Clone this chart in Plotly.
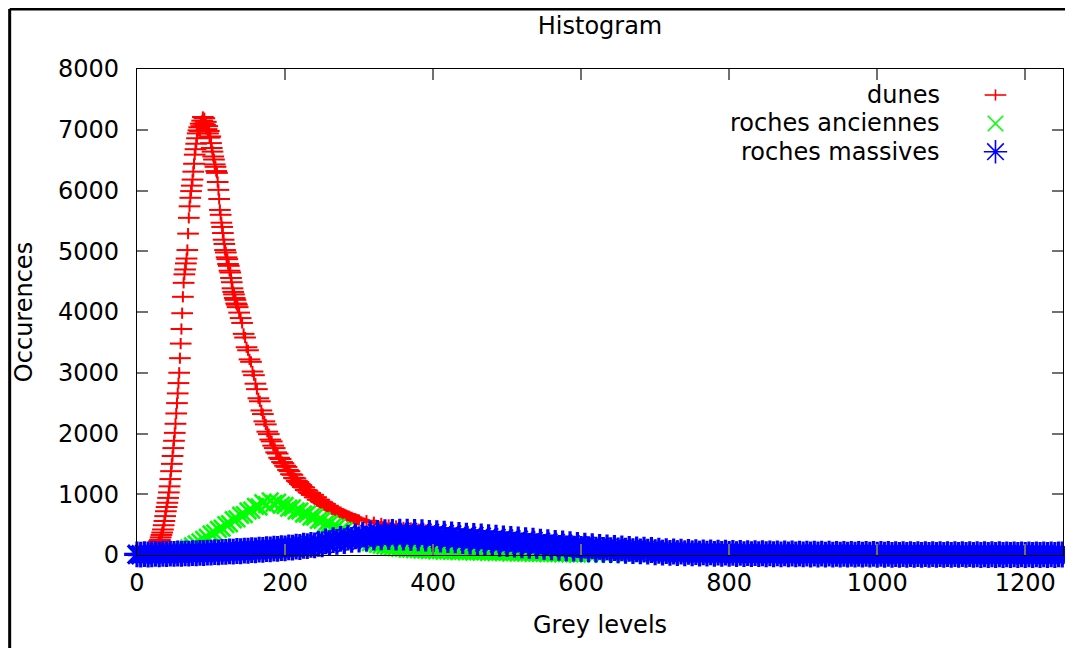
import plotly.graph_objects as go

# ---------------- data ----------------
series_names = ["dunes", "roches anciennes", "roches massives"]
x_ticks = [0, 200, 400, 600, 800, 1000, 1200]
y_ticks = [0, 1000, 2000, 3000, 4000, 5000, 6000, 7000, 8000]

# dunes (red +)
grey_dunes = (list(range(0, 18, 3)) + list(range(18, 136)) +
              list(range(136, 301, 2)) + list(range(310, 1251, 10)))
dunes = [
    0, 0, 0, 0, 0, 0,
    # 18..135
    0, 0, 5, 10, 20, 25, 40, 70, 90, 130,
    160, 190, 230, 250, 290, 330, 370, 420, 490, 560,
    640, 720, 790, 860, 940, 1030, 1130, 1250, 1380, 1500,
    1630, 1760, 1880, 2010, 2160, 2330, 2500, 2660, 2830, 3000,
    3240, 3480, 3720, 3980, 4250, 4480, 4620, 4700, 4800, 4880,
    5020, 5290, 5550, 5740, 5880, 5990, 6080, 6180, 6310, 6440,
    6590, 6680, 6770, 6860, 6940, 6990, 7040, 6980, 7100, 7060,
    7150, 7210, 7100, 7190, 7080, 7130, 7010, 7060, 6940, 6980,
    6870, 6890, 6780, 6700, 6640, 6560, 6510, 6430, 6390, 6320,
    6290, 6140, 6010, 5860, 5680, 5600, 5470, 5400, 5300, 5190,
    5120, 5020, 4980, 4900, 4870, 4790, 4760, 4680, 4650, 4560,
    4490, 4390, 4330, 4290, 4230, 4200, 4140, 4120,
    # 136..300 step 2
    4080, 3990, 3900, 3820, 3640, 3580, 3420, 3370, 3220, 3180,
    3020, 2960, 2820, 2730, 2580, 2530, 2380, 2320, 2200, 2150,
    2030, 1990, 1900, 1870, 1800, 1760, 1690, 1670, 1600, 1580,
    1530, 1510, 1470, 1450, 1400, 1380, 1330, 1320, 1270, 1260,
    1220, 1200, 1170, 1150, 1120, 1110, 1070, 1060, 1030, 1020,
    990, 990, 950, 950, 910, 910, 880, 870, 850, 840,
    810, 810, 780, 780, 750, 750, 730, 720, 710, 700,
    680, 680, 660, 660, 640, 640, 620, 620, 600, 600,
    590, 580, 575,
    # 310..1250 step 10
    565, 540, 520, 495, 478, 455, 445, 425, 410, 392,
    382, 368, 360, 345, 335, 326, 318, 305, 300, 288,
    282, 272, 265, 255, 250, 240, 236, 226, 222, 212,
    208, 200, 196, 188, 185, 178, 175, 170, 166, 160,
    158, 152, 150, 146, 144, 140, 138, 134, 133, 128,
    128, 124, 124, 120, 121, 117, 119, 115, 117, 113,
    115, 111, 113, 110, 112, 108, 111, 107, 110, 106,
    109, 105, 108, 104, 107, 103, 106, 102, 105, 101,
    104, 100, 103, 99, 103, 98, 102, 97, 101, 96,
    100, 96, 99, 95, 98,
]

# roches anciennes (green x)
grey_anciennes = list(range(0, 601, 5)) + list(range(610, 1251, 10))
roches_anciennes = [
    0, 0, 0, 0, 0, 2, 8, 12, 22, 28,
    38, 50, 66, 88, 118, 150, 182, 216, 258, 292,
    345, 365, 420, 440, 500, 515, 580, 595, 655, 665,
    725, 740, 800, 790, 860, 830, 890, 850, 870, 820,
    815, 770, 775, 725, 725, 675, 675, 625, 625, 570,
    570, 520, 515, 470, 460, 410, 400, 355, 335, 300,
    270, 245, 225, 205, 190, 175, 162, 150, 140, 130,
    122, 110, 108, 98, 97, 88, 90, 80, 82, 74,
    76, 68, 72, 64, 68, 60, 64, 56, 60, 53,
    57, 50, 54, 47, 51, 44, 48, 41, 45, 38,
    42, 36, 39, 33, 36, 31, 34, 29, 31, 27,
    29, 25, 27, 23, 25, 21, 23, 19, 21, 17,
    18,
    # 610..1250 step 10
    16, 15, 13, 13, 11, 11, 10, 9, 9, 8,
    8, 7, 7, 6, 6, 6, 5, 5, 5, 4,
    4, 4, 4, 3, 3, 3, 3, 3, 2, 2,
    2, 2, 2, 2, 2, 1, 1, 1, 1, 1,
    1, 1, 1, 1, 1, 1, 1, 0, 0, 0,
    0, 0, 0, 0, 0, 0, 0, 0, 0, 0,
    0, 0, 0, 0, 0,
]

# roches massives (blue *)
grey_massives = list(range(0, 1251, 5))
roches_massives = [
    10, 5, 15, 8, 12, 18, 10, 20, 14, 22,
    18, 25, 20, 28, 24, 32, 28, 36, 33, 40,
    38, 46, 42, 52, 50, 60, 56, 66, 62, 72,
    70, 80, 76, 88, 84, 96, 92, 104, 100, 114,
    110, 125, 120, 138, 132, 152, 145, 168, 160, 184,
    175, 225, 195, 245, 215, 265, 230, 285, 250, 305,
    255, 335, 270, 350, 285, 365, 290, 375, 295, 380,
    285, 385, 285, 385, 280, 380, 275, 375, 270, 365,
    260, 360, 255, 350, 245, 340, 240, 330, 230, 320,
    220, 315, 210, 305, 200, 295, 195, 285, 185, 275,
    180, 265, 170, 255, 160, 245, 150, 235, 145, 220,
    135, 210, 125, 200, 118, 190, 110, 180, 105, 165,
    100, 155, 95, 145, 90, 135, 85, 125, 80, 115,
    75, 108, 70, 100, 65, 94, 60, 88, 56, 82,
    45, 70, 40, 64, 36, 58, 32, 54, 28, 50,
    26, 47, 24, 44, 22, 42, 20, 40, 18, 38,
    17, 36, 16, 34, 15, 32, 14, 30, 13, 29,
    12, 28, 12, 27, 11, 26, 10, 25, 10, 24,
    9, 23, 8, 22, 8, 21, 7, 21, 7, 20,
    6, 20, 6, 19, 5, 19, 5, 18, 5, 18,
    4, 17, 4, 17, 3, 16, 3, 16, 3, 15,
    2, 15, 2, 15, 2, 14, 2, 14, 1, 14,
    1, 13, 1, 13, 1, 13, 1, 12, 0, 12,
    0, 12, 0, 12, 0, 11, 0, 11, 0, 11,
    0, 10, 0, 10, 0, 10, 0, 9, 0, 9,
    8,
]

# ---------------- styling ----------------
FONT = "DejaVu Sans"
RED, GREEN, BLUE = "#ff0000", "#00ff00", "#0000ff"

fig = go.Figure()

def pts(x, y, symbol, size, color, lw, xa="x", ya="y"):
    return go.Scatter(
        x=x, y=y, mode="markers", xaxis=xa, yaxis=ya,
        marker=dict(symbol=symbol, size=size, color=color,
                    line=dict(color=color, width=lw)),
        cliponaxis=False, showlegend=False, hoverinfo="skip")

# gnuplot "+" (wider than tall) drawn as its two strokes
# (symbol, data size, key size, colour, data line width)
styles = {
    "dunes": [("line-ew-open", 15.5, 15.5, RED, 2.0),
              ("line-ns-open", 8, 8, RED, 2.0)],
    "roches anciennes": [("x-thin-open", 16.5, 15.5, GREEN, 2.6)],
    "roches massives": [("asterisk-open", 21.5, 19.5, BLUE, 3.2)],
}
data = {
    "dunes": (grey_dunes, dunes),
    "roches anciennes": (grey_anciennes, roches_anciennes),
    "roches massives": (grey_massives, roches_massives),
}
for name in series_names:
    gx, gy = data[name]
    for sym, sz, ksz, col, lw in styles[name]:
        fig.add_trace(pts(gx, gy, sym, sz, col, lw))

# gnuplot-style key: text right-aligned, sample to its right
key_text_x = 0.8693
key_sample_x = 0.9271
key_rows = [0.9465, 0.8879, 0.8298]
for name, yrow in zip(series_names, key_rows):
    for sym, sz, ksz, col, lw in styles[name]:
        fig.add_trace(pts([key_sample_x], [yrow], sym, ksz, col, 1.6, "x2", "y2"))
    fig.add_annotation(text=name, xref="paper", yref="paper",
                       x=key_text_x, y=yrow, xanchor="right", yanchor="middle",
                       showarrow=False, font=dict(family=FONT, size=24, color="black"))

axis_common = dict(
    showline=True, linecolor="black", linewidth=1.2, mirror="ticks",
    ticks="inside", ticklen=11, tickwidth=1.5, tickcolor="#707070",
    showgrid=False, zeroline=False,
    tickfont=dict(family=FONT, size=24, color="black"),
)

W, H = 1065, 640
fig.update_layout(
    width=W, height=H,
    margin=dict(l=129, r=10, t=61, b=93),
    paper_bgcolor="white", plot_bgcolor="white",
    font=dict(family=FONT, size=24, color="black"),
    title=dict(text="Histogram", x=0.5, xref="paper", xanchor="center",
               y=1 - 18 / H, yref="container", yanchor="middle",
               font=dict(family=FONT, size=24, color="black")),
    xaxis=dict(range=[0, 1251], tickvals=x_ticks, ticklabelstandoff=6,
               title=dict(text="Grey levels", standoff=20,
                          font=dict(family=FONT, size=24, color="black")),
               **axis_common),
    yaxis=dict(range=[0, 8000], tickvals=y_ticks, ticklabelstandoff=12,
               title=dict(text="Occurences", standoff=18,
                          font=dict(family=FONT, size=24, color="black")),
               **axis_common),
    xaxis2=dict(overlaying="x", range=[0, 1], visible=False),
    yaxis2=dict(overlaying="y", range=[0, 1], visible=False),
    showlegend=False,
    shapes=[
        dict(type="line", xref="paper", yref="paper",
             x0=-0.1375, x1=-0.1375, y0=-0.25, y1=1.1235,
             line=dict(color="black", width=3)),
        dict(type="line", xref="paper", yref="paper",
             x0=-0.1375, x1=1.05, y0=1.1235, y1=1.1235,
             line=dict(color="black", width=3)),
    ],
)

fig.write_html("out.html")
